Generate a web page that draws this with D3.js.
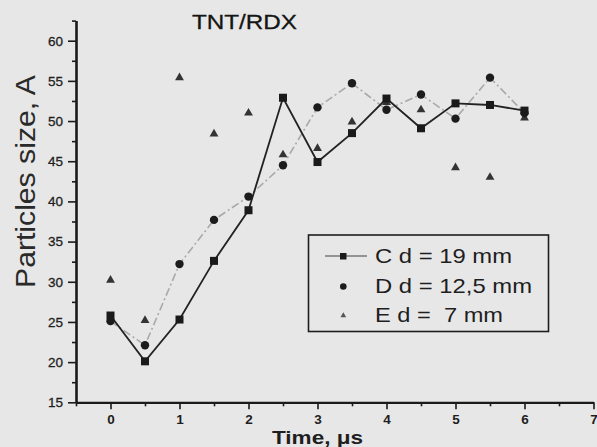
<!DOCTYPE html>
<html>
<head>
<meta charset="utf-8">
<script src="https://cdn.jsdelivr.net/npm/d3@7"></script>
<style>
  body { margin: 0; background: #e8e8e8; }
  svg { display: block; font-family: "Liberation Sans", Arial, sans-serif; }
</style>
</head>
<body>
<script>
// time points, us
const times = [0, 0.5, 1, 1.5, 2, 2.5, 3, 3.5, 4, 4.5, 5, 5.5, 6]
// particle size, A
const seriesC = [25.8, 20.1, 25.3, 32.6, 38.9, 52.9, 44.9, 48.5, 52.8, 49.1, 52.2, 52.0, 51.3]
const seriesD = [25.1, 22.1, 32.2, 37.7, 40.6, 44.5, 51.7, 54.7, 51.4, 53.3, 50.3, 55.4, 51.0]
const seriesE = [30.2, 25.2, 55.4, 48.4, 51.0, 45.8, 46.6, 49.9, 52.3, 51.4, 44.2, 43.0, 50.4]
const legendLabels = ['C d = 19 mm', 'D d = 12,5 mm', 'E d =  7 mm']
const xTicks = [0, 1, 2, 3, 4, 5, 6, 7]
const yTicks = [15, 20, 25, 30, 35, 40, 45, 50, 55, 60]

const w = 597
const h = 447

const xScale = d3.scaleLinear().domain([-0.5, 7]).range([76, 593.5])
const yScale = d3.scaleLinear().domain([15, 62.5]).range([402.3, 20.6])

const svg = d3.select('body')
  .append('svg')
  .attr('width', w)
  .attr('height', h)

svg.append('rect').attr('width', w).attr('height', h).attr('fill', '#e7e7e7')

// title
svg.append('text')
  .attr('x', 192).attr('y', 28.5)
  .attr('font-size', 21)
  .attr('textLength', 105).attr('lengthAdjust', 'spacingAndGlyphs')
  .attr('fill', '#151515')
  .attr('stroke', '#151515').attr('stroke-width', 0.3)
  .text('TNT/RDX')

// axes: minor ticks first, then major with labels
const yMinor = d3.axisLeft(yScale).tickValues(d3.range(17.5, 63, 5)).tickSize(4).tickFormat('').tickSizeOuter(0)
const yMajor = d3.axisLeft(yScale).tickValues(yTicks).tickSize(8).tickPadding(5).tickSizeOuter(0)
const xMinor = d3.axisBottom(xScale).tickValues(d3.range(-0.5, 7, 1)).tickSize(4).tickFormat('').tickSizeOuter(0)
const xMajor = d3.axisBottom(xScale).tickValues(xTicks).tickSize(7).tickPadding(5).tickSizeOuter(0)

svg.append('g').attr('transform', 'translate(0,402.3)').call(xMinor)
const gx = svg.append('g').attr('id', 'x-axis').attr('transform', 'translate(0,402.3)').call(xMajor)
svg.append('g').attr('transform', 'translate(76,0)').call(yMinor)
const gy = svg.append('g').attr('id', 'y-axis').attr('transform', 'translate(76,0)').call(yMajor)

svg.selectAll('.domain').attr('stroke', '#1a1a1a')
svg.selectAll('.tick line').attr('stroke', '#1a1a1a').attr('stroke-width', 1.6)
gx.select('.domain').attr('stroke-width', 2.2)
gy.select('.domain').attr('stroke-width', 2.6)
gx.selectAll('text').attr('font-size', 13.5).attr('font-weight', 'bold').attr('fill', '#1e1e1e').attr('font-family', null)
gy.selectAll('text').attr('font-size', 13.5).attr('fill', '#1e1e1e').attr('font-family', null)
  .attr('stroke', '#1e1e1e').attr('stroke-width', 0.3)

// axis titles
svg.append('text')
  .attr('x', 272).attr('y', 443.5)
  .attr('font-size', 18.5).attr('font-weight', 'bold')
  .attr('textLength', 91).attr('lengthAdjust', 'spacingAndGlyphs')
  .attr('fill', '#1e1e1e')
  .text('Time, \u03bcs')

svg.append('text')
  .attr('transform', 'translate(35,288) rotate(-90)')
  .attr('font-size', 27)
  .attr('textLength', 213).attr('lengthAdjust', 'spacingAndGlyphs')
  .attr('fill', '#2a2a2a')
  .text('Particles size, A')

// lines
const lineD = d3.line().x((d, i) => xScale(times[i])).y(d => yScale(d))
svg.append('path')
  .datum(seriesD)
  .attr('d', lineD)
  .attr('fill', 'none')
  .attr('stroke', '#a9a9a9')
  .attr('stroke-width', 1.6)
  .attr('stroke-dasharray', '8,3,2,3')

svg.append('path')
  .datum(seriesC)
  .attr('d', lineD)
  .attr('fill', 'none')
  .attr('stroke', '#222')
  .attr('stroke-width', 1.8)

// markers
const tri = d3.symbol().type(d3.symbolTriangle).size(34)
svg.selectAll('.ptE')
  .data(seriesE)
  .enter()
  .append('path')
  .attr('class', 'ptE')
  .attr('d', tri)
  .attr('transform', (d, i) => `translate(${xScale(times[i])},${yScale(d)})`)
  .attr('fill', '#333')

svg.selectAll('.ptD')
  .data(seriesD)
  .enter()
  .append('circle')
  .attr('class', 'ptD')
  .attr('cx', (d, i) => xScale(times[i]))
  .attr('cy', d => yScale(d))
  .attr('r', 4.2)
  .attr('fill', '#1c1c1c')

svg.selectAll('.ptC')
  .data(seriesC)
  .enter()
  .append('rect')
  .attr('class', 'ptC')
  .attr('x', (d, i) => xScale(times[i]) - 4)
  .attr('y', d => yScale(d) - 4)
  .attr('width', 8)
  .attr('height', 8)
  .attr('fill', '#1a1a1a')

// legend
const legend = svg.append('g')
legend.append('rect')
  .attr('x', 308.5).attr('y', 235)
  .attr('width', 240).attr('height', 96.5)
  .attr('fill', 'none')
  .attr('stroke', '#1e1e1e')
  .attr('stroke-width', 1.6)

legend.append('line')
  .attr('x1', 325).attr('x2', 367).attr('y1', 256).attr('y2', 256)
  .attr('stroke', '#777').attr('stroke-width', 1.3)
legend.append('rect').attr('x', 340).attr('y', 253).attr('width', 6.5).attr('height', 6.5).attr('fill', '#1a1a1a')
legend.append('circle').attr('cx', 343.3).attr('cy', 286.5).attr('r', 3.3).attr('fill', '#1c1c1c')
legend.append('path').attr('d', d3.symbol().type(d3.symbolTriangle).size(14))
  .attr('transform', 'translate(343.3,315.5)').attr('fill', '#555')

const legendY = [263.3, 292.5, 321.5]
const legendW = [137, 157, 128]
legend.selectAll('.ltext')
  .data(legendLabels)
  .enter()
  .append('text')
  .attr('class', 'ltext')
  .attr('x', 375)
  .attr('y', (d, i) => legendY[i])
  .attr('font-size', 21)
  .attr('textLength', (d, i) => legendW[i])
  .attr('lengthAdjust', 'spacingAndGlyphs')
  .attr('fill', '#1e1e1e')
  .style('white-space', 'pre')
  .text(d => d)
</script>
</body>
</html>
